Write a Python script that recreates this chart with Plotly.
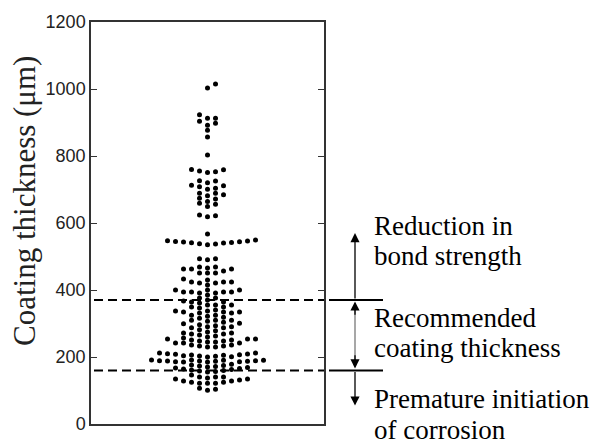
import numpy as np
import plotly.graph_objects as go

# Measured coating thickness values (µm), grouped by band from top to bottom
top_band = [1015, 1003]
band_900 = [923, 913, 913, 904, 898, 892, 877, 857, 803]
band_750 = [760, 755, 751, 753, 759]
band_700 = [726, 720, 725, 713, 708, 704, 711, 684, 674, 701, 689, 689, 672, 681,
            649, 664, 656, 659, 622, 619, 624]
band_550 = [567, 535, 537, 538, 540, 541, 542, 543, 544, 545, 546, 547, 549]
band_450 = [493, 490, 493, 469, 469, 466, 463, 463, 463, 457, 451, 451, 451,
            433, 430, 424, 424, 424, 421, 421, 415]
band_380 = [400, 400, 400, 394, 394, 394, 394, 391, 391, 385,
            376, 376, 370, 367, 364, 364, 361, 355, 355, 355, 349, 349, 346]
band_300 = [337, 334, 334, 331, 325, 322, 316, 319, 325, 331, 334, 337, 340,
            310, 310, 307, 299, 293, 287, 290, 287, 290, 296, 301, 304, 310,
            281, 278, 275, 272, 272, 269, 269, 266, 263, 260]
band_230 = [257, 254, 254, 254, 251, 251, 248, 248,
            245, 242, 236, 233, 230, 230, 233, 236, 242, 242, 245,
            212, 212, 210, 209, 208, 207, 206, 205, 204, 203, 202, 201, 200]
band_170 = [191, 191, 190, 190, 189, 189, 188, 188, 187, 187, 186, 186, 185, 185,
            178, 176, 175, 173, 172, 170, 169, 167, 166, 164, 163, 161, 160, 158, 157, 155]
band_120 = [146, 140, 140, 140, 137, 134, 134, 131, 128,
            128, 125, 125, 122, 122, 122, 107, 104, 101]

thickness = np.array(top_band + band_900 + band_750 + band_700 + band_550 + band_450
                     + band_380 + band_300 + band_230 + band_170 + band_120, dtype=float)

# Limits of the recommended coating thickness window (µm)
upper_limit = 370
lower_limit = 160

y_ticks = [0, 200, 400, 600, 800, 1000, 1200]

# Plot geometry (pixels)
W, H = 590, 448
L, R, T, B = 91, 324, 22, 424
plot_w, plot_h = R - L, B - T
px_per_um = plot_h / 1200.0


def px_x(px):
    return (px - L) / plot_w


def px_y(py):
    return (B - py) / plot_h


def swarm(values, slot_px=8.0, min_gap_px=4.8):
    """Grid beeswarm: each point takes the nearest free column (0, +1, -1, ...)."""
    order = np.argsort(values, kind="stable")
    columns = {}
    offsets = np.zeros(len(values))
    for i in order:
        y = values[i] * px_per_um
        k = 0
        done = False
        while not done:
            for s in ([0] if k == 0 else [k, -k]):
                if all(abs(y - yy) >= min_gap_px for yy in columns.get(s, [])):
                    columns.setdefault(s, []).append(y)
                    offsets[i] = s * slot_px
                    done = True
                    break
            k += 1
    return offsets


x_off = swarm(thickness)

fig = go.Figure()
fig.add_trace(go.Scatter(
    x=x_off, y=thickness, mode="markers",
    marker=dict(color="black", size=5, line=dict(width=0)),
    hoverinfo="y", showlegend=False,
))

serif = "Liberation Serif"
sans = "Liberation Sans"

# Dashed limits across the plot and solid markers to the right of it
shapes = []
for lvl in (upper_limit, lower_limit):
    shapes.append(dict(type="line", xref="paper", yref="y", x0=px_x(94), x1=1.0, y0=lvl, y1=lvl,
                       line=dict(color="black", width=2, dash="9px,5px")))
    shapes.append(dict(type="line", xref="paper", yref="y", x0=px_x(329), x1=px_x(383),
                       y0=lvl, y1=lvl, line=dict(color="black", width=2)))

arrow_x = px_x(355)
# Grey shaft of the two-headed arrow inside the recommended window
shapes.append(dict(type="line", xref="paper", yref="y", x0=arrow_x, x1=arrow_x,
                   y0=upper_limit - 10, y1=lower_limit + 10,
                   line=dict(color="#8a8a8a", width=1.5)))

annotations = []


def arrow(tip_val, tail_val):
    dy = (tip_val - tail_val) * px_per_um
    annotations.append(dict(
        xref="paper", yref="y", x=arrow_x, y=tip_val, ax=0, ay=dy,
        text="", showarrow=True, arrowhead=2, arrowsize=1.4, arrowwidth=1.3,
        arrowcolor="black", standoff=0, startstandoff=0,
    ))


arrow(570, upper_limit)                    # up: reduction in bond strength
arrow(upper_limit - 4, upper_limit - 48)   # head of the window arrow (up)
arrow(lower_limit + 6, lower_limit + 50)   # head of the window arrow (down)
arrow(55, lower_limit)                     # down: premature corrosion

labels = [
    ("Reduction in", 225.5),
    ("bond strength", 256),
    ("Recommended", 317.5),
    ("coating thickness", 347.5),
    ("Premature initiation", 399),
    ("of corrosion", 430),
]
for txt, py in labels:
    annotations.append(dict(
        xref="paper", yref="paper", x=px_x(372), y=px_y(py), xanchor="left", yanchor="middle",
        text=txt, showarrow=False, font=dict(family=serif, size=27, color="black"),
    ))

annotations.append(dict(
    xref="paper", yref="paper", x=px_x(24), y=px_y(201), xanchor="center", yanchor="middle",
    text="Coating thickness (μm)", textangle=-90, showarrow=False,
    font=dict(family=serif, size=31, color="#222"),
))

fig.update_layout(
    width=W, height=H,
    margin=dict(l=L, r=W - R, t=T, b=H - B, pad=0),
    paper_bgcolor="white", plot_bgcolor="white",
    font=dict(family=serif),
    shapes=shapes, annotations=annotations,
    xaxis=dict(range=[-plot_w / 2, plot_w / 2], showticklabels=False, ticks="",
               showgrid=False, zeroline=False, showline=True, linecolor="#333",
               linewidth=1.5, mirror=True, fixedrange=True),
    yaxis=dict(range=[0, 1200], tickvals=y_ticks, ticktext=[str(v) for v in y_ticks],
               ticks="inside", ticklen=6, tickwidth=1.2, tickcolor="#333",
               showgrid=False, zeroline=False, showline=True, linecolor="#333",
               linewidth=1.5, mirror="ticks",
               tickfont=dict(family=sans, size=18, color="#222"), fixedrange=True),
)

fig.write_html("out.html")
